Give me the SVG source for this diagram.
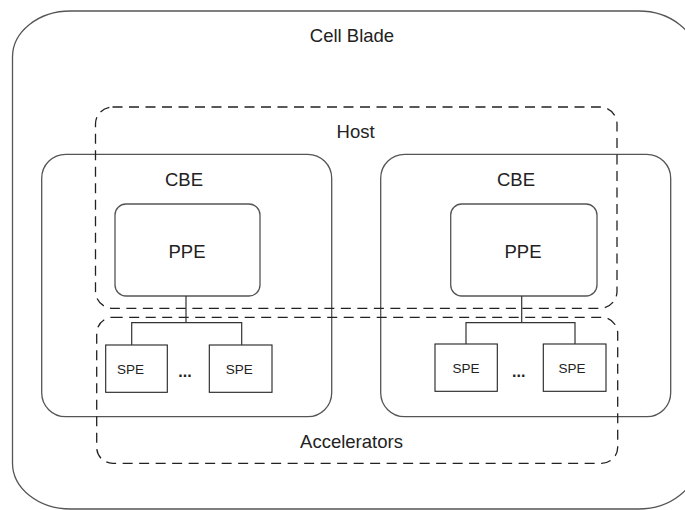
<svg xmlns="http://www.w3.org/2000/svg" width="685" height="510" viewBox="0 0 685 510">
  <style>
    .solid { fill: none; stroke: #555; stroke-width: 1.3; }
    .dash { fill: none; stroke: #222; stroke-width: 1.3; stroke-dasharray: 10 6.5; }
    .box { fill: none; stroke: #222; stroke-width: 1.1; }
    .conn { fill: none; stroke: #333; stroke-width: 1.2; }
    .lbl { font-family: "Liberation Sans", Arial, sans-serif; font-size: 18.5px; fill: #222; text-anchor: middle; }
    .small { font-family: "Liberation Sans", Arial, sans-serif; font-size: 13.5px; fill: #222; text-anchor: middle; }
    .dots { font-family: "Liberation Sans", Arial, sans-serif; font-size: 16px; font-weight: bold; fill: #222; text-anchor: middle; }
  </style>
  <rect width="685" height="510" fill="#fff"/>
  <g id="cell-blade">
    <rect class="solid" x="12.5" y="11" width="684" height="498" rx="58" ry="46"/>
    <text class="lbl" x="352" y="42">Cell Blade</text>
  </g>
  <g id="cbe-left">
    <rect class="solid" x="41.7" y="154.3" width="290" height="262.4" rx="24" ry="24"/>
    <text class="lbl" x="184" y="186">CBE</text>
  </g>
  <g id="cbe-right">
    <rect class="solid" x="380.7" y="154.3" width="290" height="262.4" rx="24" ry="24"/>
    <text class="lbl" x="516" y="186">CBE</text>
  </g>
  <g id="ppe-left">
    <rect class="solid" x="115" y="204" width="145" height="92" rx="11" ry="11"/>
    <text class="lbl" x="187" y="258">PPE</text>
  </g>
  <g id="ppe-right">
    <rect class="solid" x="450.7" y="204" width="146.3" height="92" rx="11" ry="11"/>
    <text class="lbl" x="523" y="258">PPE</text>
  </g>
  <g id="host">
    <rect class="dash" x="95.5" y="107" width="521.5" height="201.3" rx="17" ry="17"/>
    <text class="lbl" x="355.6" y="137.5">Host</text>
  </g>
  <g id="accelerators">
    <rect class="dash" x="96.7" y="317.3" width="521" height="146" rx="16" ry="16"/>
    <text class="lbl" x="351.5" y="448">Accelerators</text>
  </g>
  <g id="spe-left-1">
    <rect class="box" x="105.7" y="345" width="61.6" height="47.3"/>
    <text class="small" x="130.5" y="374">SPE</text>
  </g>
  <g id="spe-left-2">
    <rect class="box" x="209.3" y="345" width="62.7" height="47.3"/>
    <text class="small" x="239.3" y="374">SPE</text>
  </g>
  <g id="spe-right-1">
    <rect class="box" x="435" y="344" width="62.3" height="47.3"/>
    <text class="small" x="466" y="373">SPE</text>
  </g>
  <g id="spe-right-2">
    <rect class="box" x="543.3" y="344" width="62.7" height="47.3"/>
    <text class="small" x="572" y="373">SPE</text>
  </g>
  <g id="ellipsis">
    <text class="dots" x="185" y="377">...</text>
    <text class="dots" x="518.7" y="377">...</text>
  </g>
  <g id="connectors">
    <path class="conn" d="M186 296 V322.7 M131.7 345 V322.7 H241.7 V345"/>
    <path class="conn" d="M521.7 296 V322.7 M466 344 V322.7 H575 V344"/>
  </g>
</svg>
